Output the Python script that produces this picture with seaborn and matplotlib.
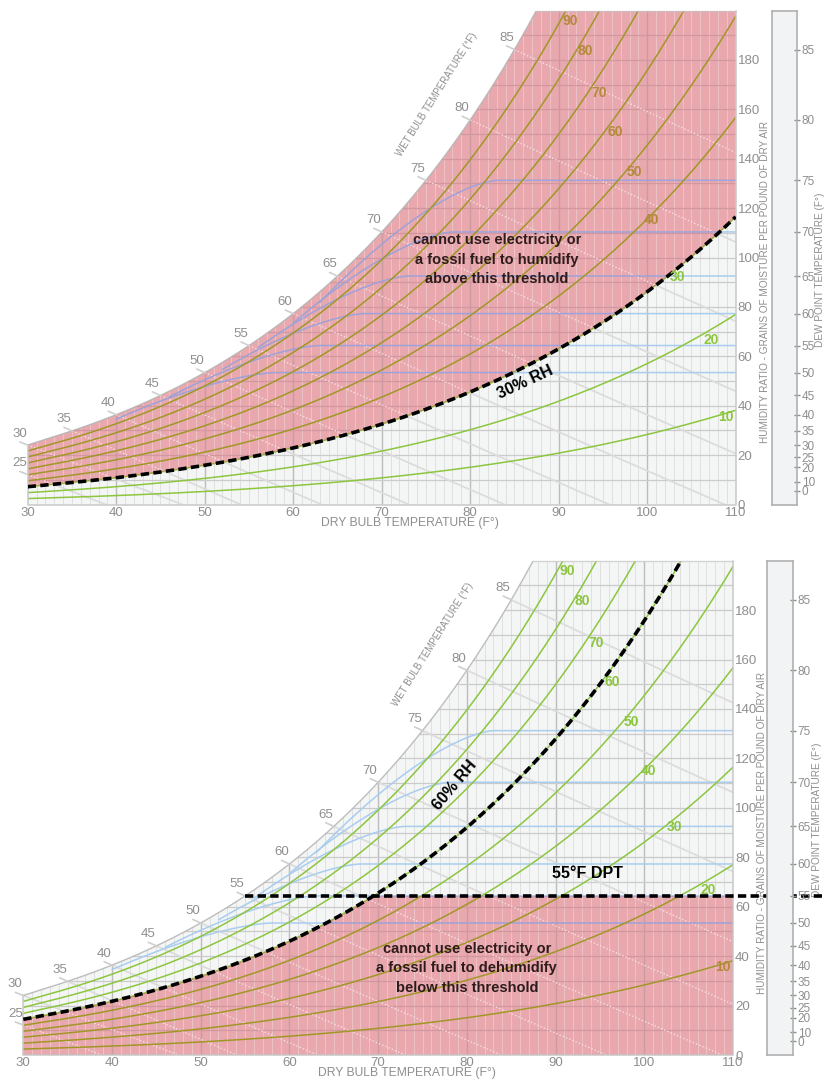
import numpy as np
import pandas as pd
import matplotlib
matplotlib.use('Agg')
import matplotlib.pyplot as plt
import seaborn as sns
from matplotlib.patches import Polygon
from matplotlib.path import Path
from matplotlib import font_manager as fm

# values
t_ticks = [30, 40, 50, 60, 70, 80, 90, 100, 110]
w_ticks = [0, 20, 40, 60, 80, 100, 120, 140, 160, 180]
rh_levels = [10, 20, 30, 40, 50, 60, 70, 80, 90]
rh_label_t = [108.9, 107.2, 103.4, 100.5, 98.5, 96.4, 94.6, 93.0, 91.3]
rh_label_w = [35.5, 66.7, 92.2, 115.0, 134.6, 151.0, 166.7, 183.7, 195.8]
wb_levels = [25, 30, 35, 40, 45, 50, 55, 60, 65, 70, 75, 80, 85]
dp_ticks = [0, 10, 20, 25, 30, 35, 40, 45, 50, 55, 60, 65, 70, 75, 80, 85]
blue_dp = [50, 55, 60, 65, 70, 75]
blue_start_t = [40, 46, 52, 56, 60, 63]
blue_knee_t = [58, 63, 68, 73, 78, 83]
top_rh_limit = 30      # % RH threshold, top chart
bottom_rh_limit = 60   # % RH threshold, bottom chart
bottom_dpt_limit = 55  # F dew point threshold, bottom chart

GREEN = '#8cc63e'
OLIVE = '#a09726'
GOLD = '#b4893a'
PINK = '#e8a8ae'
BG = '#f4f5f5'
TICK = '#8e8e8e'

sns.set_theme(style='white')
names = {f.name for f in fm.fontManager.ttflist}
NARROW = 'Liberation Sans Narrow' if 'Liberation Sans Narrow' in names else 'Liberation Sans'
plt.rcParams['font.family'] = [NARROW, 'DejaVu Sans']

P_ATM = 14.696


def p_sat(t):
    t = np.asarray(t, float)
    tr = t + 459.67
    water = np.exp(-1.0440397e4 / tr - 1.1294650e1 - 2.7022355e-2 * tr + 1.2890360e-5 * tr**2
                   - 2.4780681e-9 * tr**3 + 6.5459673 * np.log(tr))
    ice = np.exp(-1.0214165e4 / tr - 4.8932428 - 5.3765794e-3 * tr + 1.9202377e-7 * tr**2
                 + 3.5575832e-10 * tr**3 - 9.0344688e-14 * tr**4 + 4.1635019 * np.log(tr))
    return np.where(t >= 32, water, ice)


def w_grains(t, rh=1.0):
    pw = rh * p_sat(t)
    return 7000 * 0.621945 * pw / (P_ATM - pw)


def w_wetbulb(t, twb):
    ws = w_grains(twb) / 7000
    if twb >= 32:
        w = ((1093 - 0.556 * twb) * ws - 0.240 * (t - twb)) / (1093 + 0.444 * t - twb)
    else:
        w = ((1220 - 0.04 * twb) * ws - 0.240 * (t - twb)) / (1220 + 0.444 * t - 0.48 * twb)
    return 7000 * w


T = np.linspace(30, 110, 801)
W_SAT = w_grains(T)
W_TOP = np.minimum(W_SAT, 200)

rh_df = pd.concat([pd.DataFrame({'T': T, 'W': w_grains(T, r / 100), 'RH': r}) for r in rh_levels])


def blue_curve(dp, ts, tk):
    t = T[T >= ts]
    wd = float(w_grains(dp))
    ws = 0.95 * float(w_grains(ts))
    u = np.clip((t - ts) / (tk - ts), 0, 1)
    return t, wd - (wd - ws) * (1 - u) ** 1.5


def draw_lines(ax, clip, pink, z):
    # grid
    minor = [t for t in range(31, 110) if t % 10]
    if pink:
        cols = ('#eec3c8', '#c99aa0', '#d3979f')
    else:
        cols = ('#e0e0e0', '#bcbcbc', '#cbcbcb')
    lcs = [ax.vlines(minor, 0, 200, colors=cols[0], lw=0.7, zorder=z),
           ax.vlines(range(40, 110, 10), 0, 200, colors=cols[1], lw=1.0, zorder=z),
           ax.hlines(range(10, 200, 10), 30, 110, colors=cols[2], lw=0.9, zorder=z)]
    for lc in lcs:
        lc.set_clip_path(clip)
    # wet bulb lines
    for twb in wb_levels:
        t = np.linspace(max(twb, 30), 110, 200)
        w = w_wetbulb(t, twb)
        if pink:
            ln, = ax.plot(t, w, color='#f7e0e3', lw=1.0, ls=(0, (1, 1.5)), zorder=z + 0.1)
        else:
            ln, = ax.plot(t, w, color='#dcdcdc', lw=1.3, zorder=z + 0.1)
        ln.set_clip_path(clip)
    # blue humidity lines
    for dp, ts, tk in zip(blue_dp, blue_start_t, blue_knee_t):
        t, w = blue_curve(dp, ts, tk)
        ln, = ax.plot(t, w, color='#9ea2d8' if pink else '#a9cdef', lw=1.1, zorder=z + 0.2)
        ln.set_clip_path(clip)
    # relative humidity curves
    n0 = len(ax.lines)
    sns.lineplot(data=rh_df, x='T', y='W', units='RH', estimator=None, sort=False,
                 color=OLIVE if pink else GREEN, lw=1.1, ax=ax, legend=False, zorder=z + 0.3)
    for ln in ax.lines[n0:]:
        ln.set_clip_path(clip)


def draw_chart(ax, ax_dp, pink_verts, rh_text, note, note_xy):
    ax.set_xlim(30, 110)
    ax.set_ylim(0, 200)
    chart = Polygon(list(zip(T, W_TOP)) + [(110, 0), (30, 0)], closed=True,
                    facecolor=BG, edgecolor='none', zorder=1)
    ax.add_patch(chart)
    draw_lines(ax, chart, False, 2)
    pink = Polygon(pink_verts, closed=True, facecolor=PINK, edgecolor='none', zorder=6)
    ax.add_patch(pink)
    draw_lines(ax, pink, True, 7)

    # outline
    ax.plot(T, W_SAT, color='#b3b3b3', lw=1.0, alpha=0.85, zorder=8)
    ax.plot([30, 30, 110, 110], [w_grains(30), 0, 0, 200], color='#c4c4c4', lw=1.2, alpha=0.85,
            zorder=8, clip_on=False)
    t200 = T[np.argmin(np.abs(W_SAT - 200))]
    ax.plot([t200, 110], [200, 200], color='#c4c4c4', lw=1.0, alpha=0.7, zorder=8, clip_on=False)

    # wet bulb scale
    for twb in wb_levels:
        t0 = max(twb, 30)
        w0 = w_wetbulb(t0, twb)
        t1 = t0 - 0.9
        w1 = w_wetbulb(t1, twb)
        ax.plot([t0, t1], [w0, w1], color='#cfcfcf', lw=1.2, zorder=8, clip_on=False)
        ax.text(t1, w1 + 0.8, str(twb), ha='center', va='bottom', fontsize=9.5, color=TICK,
                zorder=10, clip_on=False)
    ax.text(76.2, 166, 'WET BULB TEMPERATURE (\u00b0F)', rotation=58, ha='center', va='center',
            fontsize=7, color=TICK, rotation_mode='anchor')

    # RH labels
    ppath = Path(pink_verts)
    for r, lt, lw_ in zip(rh_levels, rh_label_t, rh_label_w):
        inside = ppath.contains_point((lt, lw_))
        ax.text(lt, lw_, str(r), ha='center', va='center', fontsize=10, fontweight='bold',
                color=GOLD if inside else GREEN, zorder=10)

    # threshold note
    ax.text(note_xy[0], note_xy[1], note, ha='center', va='center', fontsize=10.5,
            fontweight='bold', color='#2e1b1b', linespacing=1.5, zorder=11)
    for txt, xy, rot in rh_text:
        ax.text(xy[0], xy[1], txt, ha='center', va='center', fontsize=11.5, fontweight='bold',
                color='black', rotation=rot, zorder=11, rotation_mode='anchor')

    # axes cosmetics
    ax.patch.set_visible(False)
    for s in ax.spines.values():
        s.set_visible(False)
    ax.set_xticks(t_ticks)
    ax.set_xticklabels([str(t) for t in t_ticks])
    ax.yaxis.tick_right()
    ax.set_yticks(w_ticks)
    ax.set_yticklabels([str(w) for w in w_ticks])
    ax.tick_params(axis='both', length=0, labelsize=9.5, labelcolor=TICK, pad=1.5)
    ax.set_xlabel('')
    ax.set_ylabel('')
    ax.grid(False)
    ax.text(0.54, -0.037, 'DRY BULB TEMPERATURE (F\u00b0)', transform=ax.transAxes, ha='center',
            va='center', fontsize=8.7, color=TICK)
    ax.text(1.041, 0.45, 'HUMIDITY RATIO - GRAINS OF MOISTURE PER POUND OF DRY AIR',
            transform=ax.transAxes, rotation=90, ha='center', va='center', fontsize=7.2,
            color=TICK)
    ax.text(1.119, 0.475, 'DEW POINT TEMPERATURE (F\u00b0)', transform=ax.transAxes,
            rotation=90, ha='center', va='center', fontsize=7.2, color=TICK)

    # dew point scale box
    ax_dp.set_xlim(0, 1)
    ax_dp.set_ylim(0, 200)
    ax_dp.set_facecolor('#f2f3f4')
    for s in ax_dp.spines.values():
        s.set_color('#b0b0b0')
        s.set_linewidth(1.2)
    ax_dp.set_xticks([])
    ax_dp.yaxis.tick_right()
    ax_dp.set_yticks(w_grains(dp_ticks))
    ax_dp.set_yticklabels([str(d) for d in dp_ticks])
    ax_dp.tick_params(axis='y', direction='inout', length=5, width=1, color=TICK, labelsize=8.5,
                      labelcolor=TICK, pad=1)
    ax_dp.grid(False)


fig = plt.figure(figsize=(8.25, 10.82), dpi=100)
FW, FH = 825, 1082


def px_axes(x0, x1, y0, y1):
    return fig.add_axes([x0 / FW, 1 - y1 / FH, (x1 - x0) / FW, (y1 - y0) / FH])


# top chart: cannot humidify above 30% RH
ax1 = px_axes(27.7, 735.7, 10.5, 504.5)
ax1_dp = px_axes(771.7, 796.7, 10.5, 504.5)
w_low = w_grains(T, top_rh_limit / 100)
top_pink = list(zip(T, W_TOP)) + list(zip(T[::-1], w_low[::-1]))
draw_chart(ax1, ax1_dp, top_pink,
           [('30% RH', (86.2, 49.5), 25)],
           'cannot use electricity or\na fossil fuel to humidify\nabove this threshold',
           (83.0, 99.0))
ax1.plot(T, w_low, color='black', lw=2.6, dashes=(2.3, 1.2), dash_capstyle='butt', zorder=9)

# bottom chart: cannot dehumidify below 60% RH / 55F dew point
ax2 = px_axes(23.3, 733.0, 560.7, 1055.0)
ax2_dp = px_axes(767.0, 792.7, 560.7, 1055.0)
w60 = w_grains(T, bottom_rh_limit / 100)
w55 = float(w_grains(bottom_dpt_limit))
bottom_pink = list(zip(T, np.minimum(w60, w55))) + [(110, 0), (30, 0)]
draw_chart(ax2, ax2_dp, bottom_pink,
           [('60% RH', (78.6, 109.0), 50), ('55\u00b0F DPT', (93.6, 73.6), 0)],
           'cannot use electricity or\na fossil fuel to dehumidify\nbelow this threshold',
           (80.0, 35.2))
ax2.plot(T, w60, color='black', lw=2.6, dashes=(2.3, 1.2), dash_capstyle='butt', zorder=9)
ax2.plot([bottom_dpt_limit, 120], [w55, w55], color='black', lw=2.6, dashes=(2.3, 1.2),
         dash_capstyle='butt', zorder=9, clip_on=False)

fig.savefig('out.png', dpi=100)
